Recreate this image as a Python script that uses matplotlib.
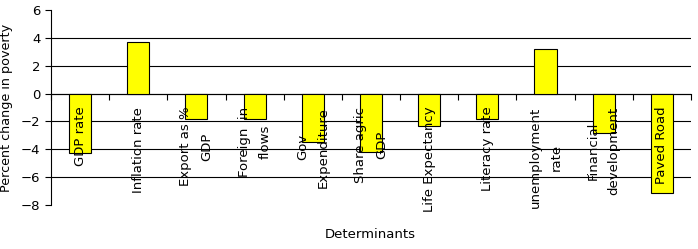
import numpy as np
import matplotlib.pyplot as plt
from matplotlib.ticker import FixedLocator

# determinants and their effect on poverty
categories = ["GDP rate", "Inflation rate", "Export as %\nGDP", "Foreign  in\nflows",
              "Gov\nExpenditure", "Share agric\nGDP", "Life Expectancy", "Literacy rate",
              "unemployment\nrate", "Financial\ndevelopment", "Paved Road"]
values = [-4.3, 3.73, -1.8, -1.8, -3.5, -4.2, -2.35, -1.8, 3.2, -2.8, -7.15]
yticks = [-8, -6, -4, -2, 0, 2, 4, 6]

fig = plt.figure(figsize=(6.98, 2.49), dpi=100)
ax = fig.add_axes([0.073, 0.177, 0.917, 0.783])

x = np.arange(len(categories))
ax.bar(x, values, width=0.38, color="#ffff00", edgecolor="black", linewidth=0.8, zorder=3)

ax.set_xlim(-0.5, len(categories) - 0.5)
ax.set_ylim(-8, 6)
ax.set_yticks(yticks)
ax.tick_params(axis="y", labelsize=9.5, length=4, width=0.8, direction="out")
ax.yaxis.grid(True, color="black", linewidth=0.8, zorder=0)
gl = ax.get_ygridlines()
gl[0].set_visible(False)
gl[-1].set_visible(False)

# x axis sits on zero, ticks at category boundaries
ax.spines["top"].set_visible(False)
ax.spines["right"].set_visible(False)
ax.spines["bottom"].set_position(("data", 0))
ax.spines["bottom"].set_linewidth(0.8)
ax.spines["left"].set_linewidth(0.8)
ax.xaxis.set_major_locator(FixedLocator(np.arange(len(categories) + 1) - 0.5))
ax.tick_params(axis="x", length=4, width=0.8, direction="out", labelbottom=False)

for i, lab in enumerate(categories):
    ax.text(i, -0.95, lab, rotation=90, ha="center", va="top", fontsize=9.5,
            multialignment="center", linespacing=1.8, zorder=4)

ax.set_ylabel("Percent change in poverty", fontsize=9.2, labelpad=6)
fig.text(0.53, 0.045, "Determinants", ha="center", fontsize=9.5)

plt.savefig("out.png")
